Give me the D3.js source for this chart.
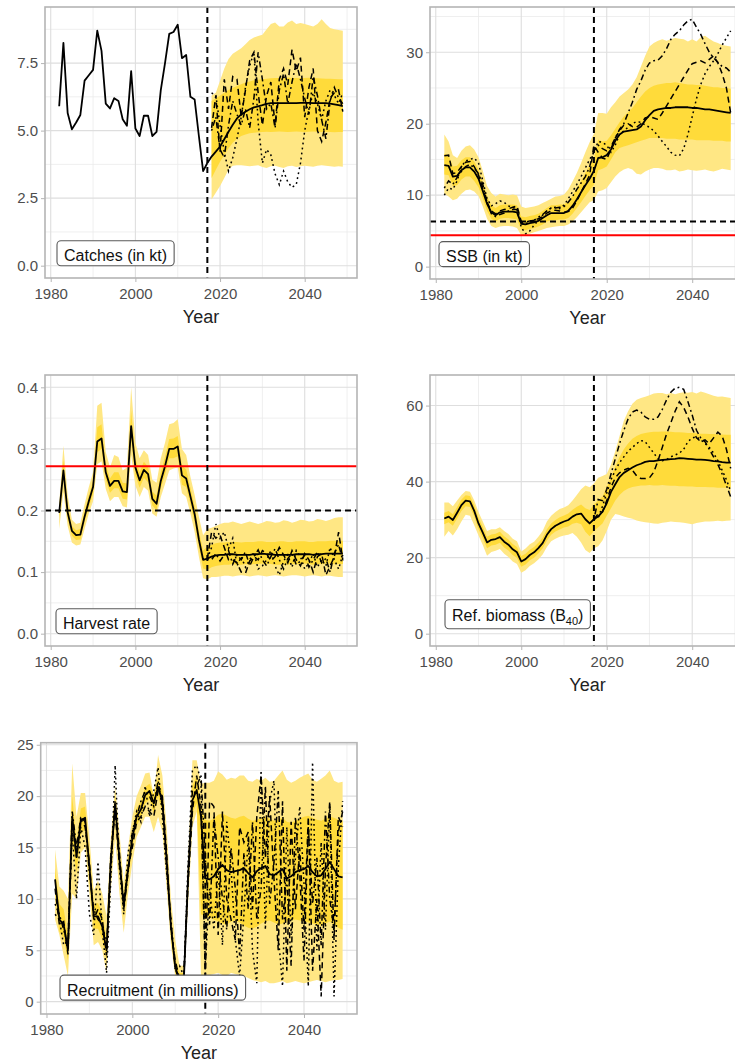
<!DOCTYPE html>
<html>
<head>
<meta charset="utf-8">
<script src="https://cdn.jsdelivr.net/npm/d3@7"></script>
<style>
  body { margin: 0; background: #fff; }
  svg { display: block; font-family: "Liberation Sans", Arial, sans-serif; }
</style>
</head>
<body>
<svg id="chart" width="735" height="1063"></svg>
<script>
// years
const years = d3.range(1982, 2050);       // 1982..2049
const obsYears = d3.range(1982, 2018);    // 1982..2017
const projYears = d3.range(2018, 2050);   // 2018..2049
const fromLast = d3.range(2017, 2050);    // 2017..2049
const lastAssess = 2017;

// ---- Catches (in kt)
const catchObs = [5.9, 8.25, 5.65, 5.05, 5.3, 5.58, 6.85, 7.05, 7.25, 8.7,
  7.95, 6.0, 5.82, 6.2, 6.1, 5.42, 5.18, 7.2, 5.08, 4.8,
  5.55, 5.55, 4.8, 4.95, 6.5, 7.5, 8.58, 8.65, 8.92, 7.68,
  7.8, 6.25, 6.15, 4.8, 3.5, 3.8];
const catchMed = [3.8, 4.04, 4.22, 4.41, 4.68, 4.96, 5.22, 5.45, 5.6, 5.7,
  5.79, 5.86, 5.9, 5.94, 5.99, 6.02, 6.02, 6.02, 6.02, 6.02,
  6.02, 6.02, 6.03, 6.03, 6.03, 6.02, 6.02, 6.02, 6.02, 6.0,
  5.97, 5.94, 5.91];
const catchOuterHi = [6.3, 6.4, 6.85, 7.3, 7.65, 7.85, 7.95, 8.05, 8.2, 8.35,
  8.45, 8.5, 8.55, 8.75, 8.95, 9.0, 8.85, 8.85, 9.0, 9.08,
  8.95, 8.98, 8.95, 8.9, 8.85, 8.95, 9.12, 8.95, 8.8, 8.75,
  8.72, 8.7];
const catchOuterLo = [2.45, 2.7, 2.95, 3.25, 3.55, 3.7, 3.72, 3.72, 3.7, 3.68,
  3.7, 3.72, 3.65, 3.62, 3.68, 3.7, 3.65, 3.62, 3.68, 3.7,
  3.65, 3.68, 3.7, 3.68, 3.66, 3.7, 3.72, 3.7, 3.68, 3.66,
  3.68, 3.66];
const catchInnerHi = [6.1, 6.2, 6.3, 6.4, 6.5, 6.58, 6.65, 6.72, 6.78, 6.82,
  6.86, 6.88, 6.9, 6.92, 6.94, 6.95, 6.95, 6.96, 6.96, 6.95,
  6.95, 6.94, 6.95, 6.96, 6.95, 6.94, 6.93, 6.92, 6.92, 6.91,
  6.9, 6.9];
const catchInnerLo = [3.25, 3.55, 3.85, 4.1, 4.35, 4.55, 4.7, 4.8, 4.86, 4.9,
  4.92, 4.94, 4.95, 4.96, 4.95, 4.96, 4.97, 4.96, 4.95, 4.96,
  4.97, 4.96, 4.95, 4.96, 4.97, 4.96, 4.95, 4.96, 4.95, 4.94,
  4.95, 4.95];
const catchWormA = [5.1, 6.3, 4.2, 6.9, 5.8, 7.0, 6.9, 5.5, 6.5, 7.6,
  7.9, 6.4, 5.2, 6.3, 6.8, 5.2, 6.9, 7.3, 6.7, 8.0,
  7.2, 7.7, 5.5, 6.6, 7.3, 5.0, 4.6, 5.3, 6.2, 6.4,
  6.5, 5.7];
const catchWormB = [6.4, 6.3, 5.2, 4.2, 3.5, 4.0, 4.7, 5.5, 6.6, 7.4,
  7.9, 5.3, 3.8, 4.3, 4.1, 3.4, 3.0, 3.5, 3.1, 2.9,
  3.0, 3.8, 5.0, 5.8, 6.4, 6.0, 5.4, 6.1, 6.5, 6.3,
  6.0, 6.4];
const catchWormC = [5.0, 5.5, 4.3, 4.0, 5.2, 6.1, 5.6, 5.2, 5.8, 5.1,
  6.2, 7.9, 6.9, 5.8, 6.0, 5.1, 6.5, 7.1, 6.0, 6.8,
  7.5, 6.9, 6.2, 5.6, 7.0, 6.3, 5.4, 4.7, 6.1, 6.6,
  6.2, 6.0];

// ---- SSB (in kt)
const ssbMed = [14.2, 14.1, 12.6, 12.7, 13.5, 13.9, 13.9, 13.3, 12.3, 10.6,
  8.8, 7.6, 7.2, 7.6, 7.7, 7.7, 7.7, 7.6, 6.0, 5.9,
  6.1, 6.2, 6.4, 6.8, 7.2, 7.5, 7.5, 7.5, 7.5, 7.8,
  8.5, 9.4, 10.4, 11.4, 12.3, 13.4, 15.2, 15.3, 15.6, 16.4,
  17.6, 18.5, 18.9, 19.0, 19.1, 19.2, 19.6, 20.5, 21.2, 21.8,
  22.0, 22.1, 22.2, 22.2, 22.3, 22.3, 22.3, 22.3, 22.2, 22.2,
  22.1, 22.0, 22.0, 21.9, 21.8, 21.7, 21.6, 21.5];
const ssbOuterHi = [18.5, 17.5, 15.6, 15.2, 16.2, 16.8, 17.0, 16.4, 15.3, 13.4,
  11.3, 10.3, 9.8, 10.2, 10.1, 10.0, 10.1, 10.0, 8.4, 8.2,
  8.3, 8.4, 8.6, 8.9, 9.2, 9.5, 9.8, 9.9, 10.1, 10.8,
  11.9, 13.1, 14.5, 16.0, 17.4, 18.6, 21.5, 21.5, 21.4, 22.3,
  23.0, 23.8, 24.3, 24.8, 25.5, 26.5, 28.0, 29.5, 30.8, 31.3,
  31.6, 31.8, 31.6, 31.8, 32.0, 31.9, 31.8, 31.5, 31.8, 31.5,
  32.1, 32.3, 31.9, 31.5, 31.3, 31.0, 30.9, 30.8];
const ssbOuterLo = [10.2, 9.8, 9.3, 9.5, 10.2, 10.7, 10.8, 10.5, 9.9, 8.4,
  6.7, 5.7, 5.4, 5.6, 5.7, 5.7, 5.6, 5.4, 4.4, 4.4,
  4.6, 4.8, 5.0, 5.2, 5.4, 5.5, 5.6, 5.7, 5.7, 5.9,
  6.3, 6.9, 7.6, 8.3, 9.0, 9.3, 10.5, 10.7, 11.0, 11.8,
  12.6, 13.2, 13.6, 13.8, 13.6, 13.0, 12.9, 13.3, 13.6, 13.8,
  13.8, 13.7, 13.5, 13.5, 13.6, 13.3, 13.4, 13.6, 13.5, 13.4,
  13.5, 13.6, 13.4, 13.3, 13.5, 13.7, 13.6, 13.5];
const ssbInnerHi = [15.8, 15.6, 14.0, 14.1, 14.9, 15.3, 15.3, 14.7, 13.6, 11.8,
  9.9, 8.6, 8.2, 8.6, 8.7, 8.7, 8.7, 8.6, 7.0, 6.9,
  7.1, 7.2, 7.4, 7.8, 8.2, 8.6, 8.6, 8.7, 8.7, 9.1,
  9.9, 10.9, 12.0, 13.1, 14.1, 15.0, 17.8, 17.5, 17.6, 18.4,
  19.3, 20.2, 21.0, 21.6, 22.2, 23.0, 23.8, 24.5, 25.0, 25.3,
  25.5, 25.6, 25.7, 25.7, 25.8, 25.7, 25.6, 25.5, 25.5, 25.4,
  25.4, 25.3, 25.2, 25.1, 25.1, 25.0, 25.0, 24.9];
const ssbInnerLo = [12.9, 12.8, 11.3, 11.4, 12.2, 12.6, 12.6, 12.0, 11.1, 9.5,
  7.8, 6.7, 6.3, 6.7, 6.8, 6.8, 6.7, 6.6, 5.2, 5.1,
  5.3, 5.4, 5.6, 5.9, 6.3, 6.5, 6.5, 6.6, 6.6, 6.8,
  7.4, 8.2, 9.0, 9.9, 10.7, 11.5, 13.5, 13.7, 14.0, 15.0,
  16.0, 16.6, 16.8, 17.0, 17.2, 17.4, 17.6, 17.8, 18.0, 18.0,
  18.0, 18.0, 17.9, 17.9, 17.9, 17.8, 17.8, 17.8, 17.8, 17.7,
  17.7, 17.7, 17.7, 17.6, 17.6, 17.6, 17.5, 17.5];
const ssbWormA = [15.5, 15.6, 13.0, 13.2, 14.0, 14.6, 14.7, 14.0, 12.8, 11.0,
  9.0, 7.8, 7.4, 7.8, 8.0, 8.1, 8.3, 8.5, 6.3, 6.2,
  6.4, 6.5, 6.7, 7.0, 7.5, 7.8, 7.9, 7.8, 7.6, 7.7,
  8.2, 9.2, 10.4, 11.6, 12.8, 17.0, 16.0, 15.2, 15.0, 16.5,
  18.0, 19.0, 19.8, 20.0, 19.6, 19.5, 20.0, 20.8, 21.0, 20.8,
  20.6, 21.5, 22.5, 23.5, 24.5, 25.5, 26.5, 27.5, 28.4, 28.6,
  28.8, 28.5, 29.0, 29.5, 28.5, 27.0, 25.0, 21.5];
const ssbWormB = [10.0, 11.0, 10.8, 12.0, 14.0, 14.8, 15.0, 15.2, 14.5, 12.0,
  9.5, 8.5, 8.8, 9.2, 9.0, 8.5, 8.3, 8.0, 5.5, 4.6,
  5.0, 5.8, 6.5, 7.2, 7.8, 8.2, 8.3, 8.1, 8.6, 9.5,
  10.5, 11.5, 12.6, 13.8, 15.0, 16.0, 17.5, 17.4, 17.0, 16.0,
  17.0, 18.5, 19.0, 19.5, 20.0, 20.3, 20.2, 19.8, 19.5, 19.0,
  18.3, 17.5, 16.8, 16.0, 15.6, 15.5, 16.5, 18.5, 21.0, 23.5,
  25.5, 27.0, 28.0, 28.8, 29.8, 31.0, 32.0, 33.0];
const ssbWormC = [11.0, 12.0, 11.5, 12.5, 13.3, 14.0, 14.3, 13.8, 13.0, 11.5,
  9.0, 7.4, 7.0, 7.3, 7.5, 7.8, 8.0, 8.0, 6.2, 6.0,
  6.3, 6.5, 6.9, 7.3, 7.8, 8.2, 8.2, 8.3, 8.4, 9.0,
  9.8, 10.8, 11.7, 12.6, 14.0, 16.2, 17.0, 16.5, 16.2, 16.8,
  18.0, 19.2, 20.0, 21.5, 23.0, 24.8, 26.0, 27.5, 28.5, 28.8,
  28.9, 29.5, 30.5, 31.8, 32.5, 33.0, 33.8, 34.4, 34.6, 33.5,
  32.5, 31.2, 30.0, 29.2, 28.6, 28.0, 27.8, 27.2];
const ssbTrigger = 6.3;
const ssbLimit = 4.4;

// ---- Harvest rate
const hrMed = [0.196, 0.265, 0.197, 0.167, 0.160, 0.161, 0.190, 0.215, 0.238, 0.312,
  0.317, 0.262, 0.240, 0.248, 0.248, 0.231, 0.230, 0.337, 0.270, 0.249,
  0.266, 0.259, 0.219, 0.211, 0.248, 0.272, 0.300, 0.300, 0.304, 0.257,
  0.252, 0.223, 0.194, 0.153, 0.120, 0.122, 0.125, 0.127, 0.128, 0.128,
  0.129, 0.129, 0.128, 0.128, 0.128, 0.128, 0.129, 0.129, 0.130, 0.129,
  0.129, 0.128, 0.128, 0.128, 0.128, 0.128, 0.129, 0.129, 0.129, 0.129,
  0.128, 0.129, 0.129, 0.130, 0.130, 0.130, 0.130, 0.130];
const hrOuterHi = [0.210, 0.305, 0.225, 0.185, 0.178, 0.180, 0.210, 0.238, 0.262, 0.370,
  0.375, 0.295, 0.270, 0.290, 0.287, 0.265, 0.270, 0.400, 0.310, 0.285,
  0.298, 0.290, 0.250, 0.245, 0.285, 0.310, 0.340, 0.342, 0.348, 0.300,
  0.290, 0.255, 0.225, 0.190, 0.160, 0.170, 0.172, 0.175, 0.178, 0.180,
  0.180, 0.182, 0.180, 0.178, 0.180, 0.182, 0.180, 0.178, 0.180, 0.183,
  0.182, 0.180, 0.181, 0.184, 0.183, 0.180, 0.182, 0.185, 0.184, 0.182,
  0.183, 0.186, 0.185, 0.183, 0.185, 0.188, 0.189, 0.189];
const hrOuterLo = [0.170, 0.230, 0.175, 0.148, 0.143, 0.145, 0.170, 0.195, 0.215, 0.275,
  0.280, 0.235, 0.215, 0.222, 0.222, 0.207, 0.205, 0.290, 0.240, 0.222,
  0.238, 0.232, 0.195, 0.190, 0.222, 0.243, 0.265, 0.268, 0.270, 0.228,
  0.222, 0.195, 0.165, 0.125, 0.090, 0.088, 0.092, 0.092, 0.093, 0.094,
  0.094, 0.093, 0.094, 0.095, 0.094, 0.093, 0.094, 0.095, 0.094, 0.093,
  0.094, 0.095, 0.094, 0.093, 0.094, 0.095, 0.095, 0.094, 0.093, 0.094,
  0.095, 0.094, 0.093, 0.094, 0.094, 0.093, 0.092, 0.092];
const hrInnerHi = [0.203, 0.282, 0.208, 0.175, 0.168, 0.170, 0.199, 0.225, 0.248, 0.335,
  0.340, 0.275, 0.252, 0.262, 0.262, 0.245, 0.244, 0.362, 0.285, 0.262,
  0.279, 0.271, 0.231, 0.224, 0.262, 0.287, 0.316, 0.317, 0.321, 0.273,
  0.267, 0.237, 0.207, 0.167, 0.135, 0.142, 0.145, 0.147, 0.148, 0.148,
  0.149, 0.149, 0.149, 0.148, 0.149, 0.149, 0.149, 0.150, 0.150, 0.149,
  0.149, 0.149, 0.150, 0.150, 0.149, 0.149, 0.150, 0.150, 0.150, 0.149,
  0.149, 0.150, 0.150, 0.150, 0.151, 0.151, 0.151, 0.151];
const hrInnerLo = [0.188, 0.250, 0.187, 0.159, 0.152, 0.153, 0.181, 0.205, 0.227, 0.295,
  0.300, 0.250, 0.229, 0.236, 0.236, 0.219, 0.218, 0.315, 0.257, 0.237,
  0.253, 0.246, 0.208, 0.201, 0.236, 0.258, 0.285, 0.285, 0.288, 0.242,
  0.238, 0.210, 0.180, 0.140, 0.106, 0.104, 0.108, 0.110, 0.111, 0.112,
  0.112, 0.113, 0.112, 0.112, 0.113, 0.112, 0.113, 0.113, 0.114, 0.113,
  0.113, 0.112, 0.112, 0.113, 0.112, 0.113, 0.113, 0.113, 0.114, 0.113,
  0.112, 0.113, 0.113, 0.114, 0.114, 0.113, 0.113, 0.113];
const hrWormA = [0.122, 0.165, 0.155, 0.160, 0.140, 0.120, 0.120, 0.115, 0.100, 0.098, 0.118,
  0.125, 0.120, 0.135, 0.130, 0.118, 0.125, 0.140, 0.128, 0.115, 0.135,
  0.120, 0.110, 0.130, 0.120, 0.100, 0.125, 0.130, 0.095, 0.110, 0.125,
  0.165, 0.120];
const hrWormB = [0.122, 0.140, 0.178, 0.155, 0.165, 0.138, 0.155, 0.110, 0.125, 0.108, 0.120,
  0.132, 0.105, 0.110, 0.120, 0.135, 0.110, 0.095, 0.118, 0.128, 0.108,
  0.135, 0.125, 0.105, 0.115, 0.130, 0.108, 0.120, 0.110, 0.140, 0.120,
  0.105, 0.128];
const hrWormC = [0.122, 0.120, 0.130, 0.118, 0.128, 0.135, 0.113, 0.128, 0.120, 0.133, 0.110,
  0.125, 0.136, 0.120, 0.110, 0.125, 0.138, 0.120, 0.105, 0.122, 0.130,
  0.112, 0.118, 0.128, 0.108, 0.120, 0.133, 0.115, 0.122, 0.100, 0.130,
  0.145, 0.118];
const hrLimit = 0.272;
const hrTarget = 0.20;

// ---- Ref. biomass (B40)
const bioMed = [30.3, 30.8, 29.9, 31.8, 33.8, 35.0, 34.8, 32.3, 29.0, 26.6,
  24.0, 24.7, 24.9, 25.4, 24.2, 23.4, 22.2, 21.4, 19.0, 19.6,
  20.7, 21.4, 22.5, 23.8, 26.0, 27.5, 28.4, 29.0, 29.5, 29.9,
  30.8, 31.4, 31.6, 30.1, 29.0, 30.1, 30.8, 32.1, 34.3, 37.3,
  39.3, 41.2, 42.3, 43.0, 43.7, 44.3, 44.7, 45.2, 45.4, 45.4,
  45.6, 45.7, 45.8, 45.9, 46.0, 46.2, 46.1, 46.0, 45.9, 45.8,
  45.8, 45.7, 45.6, 45.4, 45.3, 45.1, 45.0, 45.0];
const bioOuterHi = [34.5, 34.5, 33.5, 35.0, 36.5, 37.5, 37.3, 35.0, 32.0, 29.5,
  27.0, 27.5, 27.5, 28.0, 27.0, 26.2, 25.0, 24.3, 21.6, 22.4,
  23.5, 24.2, 25.5, 27.0, 29.5, 31.0, 32.0, 32.8, 33.2, 33.8,
  35.0, 36.5, 38.0, 39.0, 38.5, 39.5, 41.0, 41.5, 42.0, 44.5,
  48.0, 52.0, 56.0, 58.5, 60.5, 61.5, 62.0, 62.3, 62.7, 63.2,
  63.3, 63.3, 63.0, 63.3, 63.0, 63.3, 63.5, 63.4, 63.6, 63.2,
  63.7, 63.4, 63.0, 62.6, 62.3, 62.4, 62.2, 62.0];
const bioOuterLo = [25.5, 27.0, 25.8, 27.5, 29.5, 31.3, 31.0, 28.5, 25.8, 23.3,
  20.5, 21.5, 21.8, 22.3, 21.0, 20.2, 19.0, 18.3, 16.0, 16.7,
  17.8, 18.5, 19.5, 20.8, 22.8, 24.3, 25.0, 25.5, 25.8, 26.0,
  26.5, 25.5, 24.0, 22.0, 21.2, 22.5, 23.0, 24.5, 27.0, 30.0,
  31.5, 31.2, 30.8, 30.5, 30.2, 29.8, 29.5, 29.3, 29.2, 29.0,
  28.9, 29.2, 29.3, 29.5, 29.4, 29.3, 29.2, 29.0, 28.8, 29.1,
  29.3, 29.5, 29.5, 29.6, 29.7, 29.6, 29.7, 29.8];
const bioInnerHi = [31.8, 32.3, 31.4, 33.3, 35.3, 36.4, 36.2, 33.8, 30.5, 28.1,
  25.5, 26.1, 26.3, 26.8, 25.6, 24.8, 23.6, 22.8, 20.4, 21.0,
  22.1, 22.8, 23.9, 25.2, 27.5, 29.0, 29.9, 30.6, 31.1, 31.6,
  32.6, 33.4, 34.0, 33.0, 32.5, 34.0, 35.0, 36.0, 38.5, 41.0,
  44.0, 46.5, 48.5, 50.0, 51.3, 52.0, 52.5, 52.8, 53.0, 53.1,
  53.1, 53.2, 53.2, 53.1, 53.0, 53.0, 52.9, 52.8, 52.8, 52.7,
  52.6, 52.6, 52.5, 52.5, 52.4, 52.4, 52.3, 52.3];
const bioInnerLo = [28.8, 29.3, 28.4, 30.3, 32.3, 33.5, 33.3, 30.8, 27.5, 25.1,
  22.5, 23.2, 23.4, 23.9, 22.7, 21.9, 20.7, 19.9, 17.6, 18.2,
  19.3, 20.0, 21.1, 22.4, 24.5, 26.0, 26.9, 27.4, 27.9, 28.2,
  28.9, 29.2, 28.8, 26.8, 25.6, 27.0, 28.0, 29.0, 31.0, 33.0,
  35.0, 36.5, 37.5, 38.2, 38.6, 38.8, 39.0, 39.0, 39.1, 39.0,
  39.0, 39.1, 39.0, 38.9, 38.9, 38.8, 38.8, 38.7, 38.7, 38.6,
  38.6, 38.6, 38.5, 38.5, 38.4, 38.4, 38.4, 38.3];
const bioWormA = [30.1, 31.5, 32.0, 35.0, 38.5, 41.0, 42.3, 43.0, 43.5, 43.0, 41.5,
  40.8, 40.8, 41.0, 42.5, 45.5, 49.0, 52.5, 55.5, 58.5, 61.0,
  59.5, 57.0, 54.0, 51.5, 50.5, 51.0, 50.0, 51.5, 53.0, 52.0,
  48.5, 43.5];
const bioWormB = [30.1, 30.5, 33.5, 37.0, 40.5, 43.0, 45.0, 46.5, 48.0, 49.0, 50.0,
  50.8, 50.5, 49.0, 47.5, 46.0, 45.5, 45.8, 46.5, 47.0, 47.5,
  48.5, 50.5, 51.5, 51.8, 51.0, 50.0, 49.0, 47.5, 45.5, 43.0,
  40.5, 37.5];
const bioWormC = [30.1, 35.3, 35.0, 38.0, 42.0, 46.0, 50.0, 53.5, 56.5, 58.3, 58.8,
  58.3, 57.0, 56.4, 56.4, 57.0, 59.0, 61.5, 63.5, 64.6, 64.8,
  64.3, 61.0, 57.5, 53.5, 51.5, 50.5, 48.5, 46.5, 44.5, 42.0,
  39.0, 36.0];

// ---- Recruitment (in millions)
const recMed = [11.9, 8.0, 7.5, 5.0, 18.0, 14.1, 17.6, 17.9, 13.1, 8.3,
  8.3, 7.3, 5.0, 13.8, 19.2, 13.8, 9.3, 12.8, 15.9, 18.0,
  18.7, 20.1, 20.5, 19.3, 20.9, 19.5, 13.8, 7.3, 3.4, 2.1,
  2.1, 12.2, 19.6, 20.6, 18.0, 12.0, 11.9, 12.2, 12.9, 13.3,
  12.8, 12.6, 12.7, 12.8, 13.0, 12.5, 12.1, 12.7, 13.0, 13.2,
  12.4, 12.3, 12.6, 12.9, 12.0, 12.2, 12.6, 12.8, 12.9, 13.2,
  12.6, 12.2, 12.3, 12.9, 13.6, 12.9, 12.2, 12.1];
const recOuterHi = [14.8, 11.2, 10.8, 10.0, 23.2, 18.0, 20.3, 20.3, 16.0, 10.8,
  11.8, 10.5, 8.3, 16.0, 21.0, 16.5, 11.5, 15.0, 18.0, 20.0,
  21.0, 22.2, 22.3, 20.0, 24.0, 22.0, 17.0, 10.0, 6.0, 3.5,
  3.5, 14.0, 23.5, 23.5, 21.2, 21.3, 21.3, 21.5, 22.4, 22.1,
  21.6, 21.8, 21.7, 22.0, 22.0, 21.5, 21.4, 21.7, 21.5, 21.8,
  21.4, 21.5, 22.0, 22.5, 21.6, 21.3, 21.5, 21.8, 22.0, 22.2,
  21.6, 21.4, 21.7, 22.0, 22.5, 21.5, 21.3, 21.4];
const recOuterLo = [8.0, 6.5, 4.5, 2.5, 10.5, 10.0, 14.5, 15.0, 10.5, 5.5,
  5.8, 5.0, 2.8, 11.0, 16.0, 10.5, 6.7, 10.5, 13.5, 16.0,
  17.0, 18.0, 18.0, 16.5, 18.0, 16.5, 11.0, 5.5, 2.5, 1.8,
  1.8, 9.5, 17.0, 18.5, 2.5, 2.6, 2.6, 2.7, 2.8, 2.6,
  2.5, 2.8, 2.7, 2.6, 2.5, 2.3, 2.1, 2.0, 1.9, 2.0,
  1.8, 1.8, 1.9, 2.0, 1.8, 1.9, 2.0, 1.9, 1.8, 1.9,
  2.0, 2.1, 2.0, 1.9, 2.0, 2.1, 2.1, 2.2];
const recInnerHi = [13.0, 9.5, 9.0, 6.5, 20.0, 15.5, 18.8, 19.0, 14.5, 9.5,
  9.6, 8.6, 6.2, 15.0, 20.0, 14.8, 10.3, 13.8, 16.8, 18.8,
  19.5, 20.9, 21.2, 20.2, 21.8, 20.5, 14.8, 8.2, 4.2, 2.8,
  2.8, 13.2, 21.0, 22.0, 19.0, 17.7, 17.6, 17.8, 18.2, 18.3,
  18.1, 17.9, 17.8, 18.0, 18.1, 17.8, 17.6, 17.7, 17.9, 18.0,
  17.8, 17.6, 17.7, 17.9, 17.5, 17.4, 17.6, 17.8, 18.0, 18.1,
  17.9, 17.7, 17.6, 17.8, 18.0, 17.9, 17.7, 17.6];
const recInnerLo = [10.6, 6.8, 6.2, 4.0, 15.5, 12.5, 16.3, 16.8, 11.8, 7.1,
  7.1, 6.1, 4.0, 12.6, 18.3, 12.7, 8.2, 11.8, 14.9, 17.1,
  17.9, 19.3, 19.7, 18.3, 20.0, 18.5, 12.7, 6.3, 2.8, 1.9,
  1.9, 11.2, 18.3, 19.3, 8.5, 8.3, 8.2, 8.0, 7.8, 7.6,
  7.5, 7.8, 7.9, 7.7, 7.4, 7.2, 7.1, 7.3, 7.6, 7.8,
  7.9, 7.7, 7.5, 7.6, 7.8, 7.9, 8.0, 7.9, 7.8, 7.7,
  7.6, 7.5, 7.4, 7.6, 7.8, 7.5, 7.2, 7.0];
const recWormA = [11.0, 7.5, 7.8, 4.6, 17.5, 14.0, 17.8, 17.0, 13.5, 8.0,
  9.0, 8.0, 4.5, 14.5, 18.5, 13.2, 9.8, 13.0, 15.0, 17.5,
  18.0, 19.0, 18.5, 18.0, 20.5, 20.0, 14.5, 7.0, 4.0, 2.2,
  2.5, 11.5, 18.5, 22.0, 19.0, 2.5, 19.5, 19.0, 6.5, 18.5,
  10.0, 8.0, 6.0, 17.0, 15.5, 16.5, 9.0, 18.0, 22.0, 14.0,
  20.0, 12.0, 5.0, 19.5, 3.0, 17.5, 9.0, 15.0, 7.0, 18.0,
  3.0, 10.0, 0.5, 13.0, 19.5, 6.0, 18.0, 17.0];
const recWormB = [8.5, 8.0, 5.5, 6.0, 16.5, 10.0, 17.0, 15.0, 8.5, 6.5,
  13.6, 7.0, 2.8, 12.0, 23.0, 13.0, 8.5, 14.5, 16.5, 18.5,
  17.5, 21.0, 18.0, 20.5, 22.8, 18.0, 12.5, 8.0, 3.0, 3.5,
  2.5, 13.5, 22.5, 23.0, 21.5, 3.5, 11.0, 7.0, 13.0, 5.5,
  17.5, 13.0, 6.0, 2.5, 8.5, 16.0, 5.0, 1.8, 22.5, 7.0,
  19.5, 21.5, 6.5, 1.5, 17.0, 6.5, 14.0, 19.0, 11.5, 1.5,
  23.3, 5.0, 15.5, 7.0, 19.0, 0.5, 13.0, 19.5];
const recWormC = [9.5, 8.5, 7.0, 5.5, 18.5, 15.0, 18.0, 17.5, 12.5, 9.0,
  8.0, 7.5, 5.5, 13.0, 19.5, 14.5, 9.0, 12.5, 16.5, 18.0,
  19.5, 20.5, 20.0, 19.0, 21.5, 19.0, 13.0, 7.8, 3.2, 2.0,
  2.2, 12.8, 20.5, 21.0, 22.0, 14.0, 7.5, 18.0, 14.0, 10.0,
  7.0, 15.0, 11.0, 4.5, 14.5, 9.0, 17.5, 8.0, 11.0, 21.0,
  9.5, 13.5, 20.5, 8.0, 12.0, 3.5, 18.0, 12.5, 4.0, 17.0,
  9.5, 14.0, 5.5, 18.5, 10.0, 7.0, 16.5, 18.5];

// ---------------------------------------------------------------
const svg = d3.select("#chart");
const FONT = "'Liberation Sans', Arial, sans-serif";
const OUTER = "#FFE784";
const INNER = "#FFDB3A";
const DASH = { dashed: "6,4", dotted: "1.8,3.2", dotdash: "1.8,3.2,6,3.2" };
const xDomain = [1982 - 0.05 * 67, 2049 + 0.05 * 67];

function yDomainOf(series) {
  const vals = [0].concat(...series);
  const lo = d3.min(vals), hi = d3.max(vals);
  const pad = (hi - lo) * 0.05;
  return [lo - pad, hi + pad];
}

function minorTicks(ticks, domain) {
  const step = ticks[1] - ticks[0];
  return d3.range(ticks[0] - step / 2, domain[1], step)
    .filter(v => v >= domain[0] && v <= domain[1]);
}

function drawPanel(p) {
  const g = svg.append("g");
  const x = d3.scaleLinear().domain(xDomain).range([p.left, p.right]);
  const yDom = yDomainOf(p.extent);
  const y = d3.scaleLinear().domain(yDom).range([p.bottom, p.top]);
  const xTicks = [1980, 2000, 2020, 2040];

  svg.append("clipPath").attr("id", "clip-" + p.id)
    .append("rect").attr("x", p.left).attr("y", p.top)
    .attr("width", p.right - p.left).attr("height", p.bottom - p.top);

  // grid
  const grid = g.append("g");
  grid.selectAll("line.ymin").data(minorTicks(p.yTicks, yDom)).join("line")
    .attr("x1", p.left).attr("x2", p.right)
    .attr("y1", d => y(d)).attr("y2", d => y(d))
    .attr("stroke", "#EBEBEB").attr("stroke-width", 0.8);
  grid.selectAll("line.xmin").data(minorTicks(xTicks, xDomain)).join("line")
    .attr("y1", p.top).attr("y2", p.bottom)
    .attr("x1", d => x(d)).attr("x2", d => x(d))
    .attr("stroke", "#EBEBEB").attr("stroke-width", 0.8);
  grid.selectAll("line.ymaj").data(p.yTicks).join("line")
    .attr("x1", p.left).attr("x2", p.right)
    .attr("y1", d => y(d)).attr("y2", d => y(d))
    .attr("stroke", "#DEDEDE").attr("stroke-width", 1.1);
  grid.selectAll("line.xmaj").data(xTicks).join("line")
    .attr("y1", p.top).attr("y2", p.bottom)
    .attr("x1", d => x(d)).attr("x2", d => x(d))
    .attr("stroke", "#DEDEDE").attr("stroke-width", 1.1);

  const plot = g.append("g").attr("clip-path", `url(#clip-${p.id})`);
  const area = d3.area().x(d => x(d[0])).y0(d => y(d[1])).y1(d => y(d[2]));
  const line = d3.line().x(d => x(d[0])).y(d => y(d[1]));

  p.bands.forEach(b => {
    plot.append("path").datum(d3.zip(b.yrs, b.lo, b.hi))
      .attr("d", area).attr("fill", b.color);
  });
  p.worms.forEach(w => {
    plot.append("path").datum(d3.zip(w.yrs, w.vals))
      .attr("d", line).attr("fill", "none").attr("stroke", "#000")
      .attr("stroke-width", 1.5).attr("stroke-dasharray", DASH[w.type]);
  });
  p.medians.forEach(m => {
    plot.append("path").datum(d3.zip(m.yrs, m.vals))
      .attr("d", line).attr("fill", "none").attr("stroke", "#000")
      .attr("stroke-width", 1.8).attr("stroke-linejoin", "round");
  });
  (p.hlines || []).forEach(h => {
    plot.append("line").attr("x1", p.left).attr("x2", p.right)
      .attr("y1", y(h.value)).attr("y2", y(h.value))
      .attr("stroke", h.color).attr("stroke-width", 2)
      .attr("stroke-dasharray", h.dash ? "6,4" : null);
  });
  plot.append("line").attr("x1", x(lastAssess)).attr("x2", x(lastAssess))
    .attr("y1", p.top).attr("y2", p.bottom)
    .attr("stroke", "#000").attr("stroke-width", 2).attr("stroke-dasharray", "6,4");

  // label box
  const lab = g.append("g");
  const boxBottom = y(0) - (p.labelLift || 0);
  const boxH = p.labelSub ? 29 : 25;
  const rect = lab.append("rect");
  const txt = lab.append("text").attr("x", p.labelLeft + 7)
    .attr("y", boxBottom - (p.labelSub ? 8 : 4.5))
    .attr("font-family", FONT).attr("font-size", 16).attr("fill", "#111")
    .text(p.label);
  if (p.labelSub) {
    txt.append("tspan").attr("font-size", 11).attr("dy", 4).text(p.labelSub);
    txt.append("tspan").attr("dy", -4).text(")");
  }
  const tw = txt.node().getComputedTextLength();
  rect.attr("x", p.labelLeft).attr("y", boxBottom - boxH)
    .attr("width", tw + 14).attr("height", boxH).attr("rx", 4)
    .attr("fill", "#fff").attr("stroke", "#595959").attr("stroke-width", 1.1);

  // border
  g.append("rect").attr("x", p.left).attr("y", p.top)
    .attr("width", p.right - p.left).attr("height", p.bottom - p.top)
    .attr("fill", "none").attr("stroke", "#B5B5B5").attr("stroke-width", 1.6);

  // axes
  const ax = g.append("g").attr("transform", `translate(${p.left},0)`)
    .call(d3.axisLeft(y).tickValues(p.yTicks).tickFormat(d3.format(p.yFormat))
      .tickSize(4).tickPadding(3));
  const bx = g.append("g").attr("transform", `translate(0,${p.bottom})`)
    .call(d3.axisBottom(x).tickValues(xTicks).tickFormat(d3.format("d"))
      .tickSize(4).tickPadding(6));
  [ax, bx].forEach(a => {
    a.select(".domain").remove();
    a.attr("font-family", FONT).attr("font-size", 15);
    a.selectAll("line").attr("stroke", "#B5B5B5");
    a.selectAll("text").attr("fill", "#4D4D4D");
  });

  g.append("text").attr("x", (p.left + p.right) / 2).attr("y", p.bottom + 45)
    .attr("text-anchor", "middle").attr("font-family", FONT)
    .attr("font-size", 18).attr("fill", "#222").text("Year");
}

drawPanel({
  id: "catch", left: 45, right: 357, top: 7, bottom: 278,
  yTicks: [0, 2.5, 5, 7.5], yFormat: ".1f",
  extent: [catchObs, catchOuterHi, catchOuterLo],
  bands: [
    { yrs: projYears, lo: catchOuterLo, hi: catchOuterHi, color: OUTER },
    { yrs: projYears, lo: catchInnerLo, hi: catchInnerHi, color: INNER }
  ],
  worms: [
    { yrs: projYears, vals: catchWormA, type: "dashed" },
    { yrs: projYears, vals: catchWormB, type: "dotted" },
    { yrs: projYears, vals: catchWormC, type: "dotdash" }
  ],
  medians: [{ yrs: obsYears, vals: catchObs }, { yrs: fromLast, vals: catchMed }],
  label: "Catches (in kt)", labelLeft: 57
});

drawPanel({
  id: "ssb", left: 430, right: 745, top: 7, bottom: 279,
  yTicks: [0, 10, 20, 30], yFormat: "d",
  extent: [ssbOuterHi, ssbOuterLo, ssbWormA, ssbWormB, ssbWormC],
  bands: [
    { yrs: years, lo: ssbOuterLo, hi: ssbOuterHi, color: OUTER },
    { yrs: years, lo: ssbInnerLo, hi: ssbInnerHi, color: INNER }
  ],
  worms: [
    { yrs: years, vals: ssbWormA, type: "dashed" },
    { yrs: years, vals: ssbWormB, type: "dotted" },
    { yrs: years, vals: ssbWormC, type: "dotdash" }
  ],
  medians: [{ yrs: years, vals: ssbMed }],
  hlines: [{ value: ssbTrigger, color: "#000", dash: true }, { value: ssbLimit, color: "#FF0000" }],
  label: "SSB (in kt)", labelLeft: 439
});

drawPanel({
  id: "hr", left: 45, right: 357, top: 375, bottom: 646,
  yTicks: [0, 0.1, 0.2, 0.3, 0.4], yFormat: ".1f",
  extent: [hrOuterHi, hrOuterLo],
  bands: [
    { yrs: years, lo: hrOuterLo, hi: hrOuterHi, color: OUTER },
    { yrs: years, lo: hrInnerLo, hi: hrInnerHi, color: INNER }
  ],
  worms: [
    { yrs: fromLast, vals: hrWormA, type: "dashed" },
    { yrs: fromLast, vals: hrWormB, type: "dotted" },
    { yrs: fromLast, vals: hrWormC, type: "dotdash" }
  ],
  medians: [{ yrs: years, vals: hrMed }],
  hlines: [{ value: hrLimit, color: "#FF0000" }, { value: hrTarget, color: "#000", dash: true }],
  label: "Harvest rate", labelLeft: 56
});

drawPanel({
  id: "bio", left: 430, right: 745, top: 375, bottom: 646,
  yTicks: [0, 20, 40, 60], yFormat: "d",
  extent: [bioOuterHi, bioOuterLo, bioWormA, bioWormB, bioWormC],
  bands: [
    { yrs: years, lo: bioOuterLo, hi: bioOuterHi, color: OUTER },
    { yrs: years, lo: bioInnerLo, hi: bioInnerHi, color: INNER }
  ],
  worms: [
    { yrs: fromLast, vals: bioWormA, type: "dashed" },
    { yrs: fromLast, vals: bioWormB, type: "dotted" },
    { yrs: fromLast, vals: bioWormC, type: "dotdash" }
  ],
  medians: [{ yrs: years, vals: bioMed }],
  label: "Ref. biomass (B", labelSub: "40", labelLeft: 445, labelLift: 5
});

drawPanel({
  id: "rec", left: 40.7, right: 357, top: 742.7, bottom: 1014,
  yTicks: [0, 5, 10, 15, 20, 25], yFormat: "d",
  extent: [recOuterHi, recOuterLo, recWormA, recWormB, recWormC],
  bands: [
    { yrs: years, lo: recOuterLo, hi: recOuterHi, color: OUTER },
    { yrs: years, lo: recInnerLo, hi: recInnerHi, color: INNER }
  ],
  worms: [
    { yrs: years, vals: recWormA, type: "dashed" },
    { yrs: years, vals: recWormB, type: "dotted" },
    { yrs: years, vals: recWormC, type: "dotdash" }
  ],
  medians: [{ yrs: years, vals: recMed }],
  label: "Recruitment (in millions)", labelLeft: 60, labelLift: 1.5
});
</script>
</body>
</html>
